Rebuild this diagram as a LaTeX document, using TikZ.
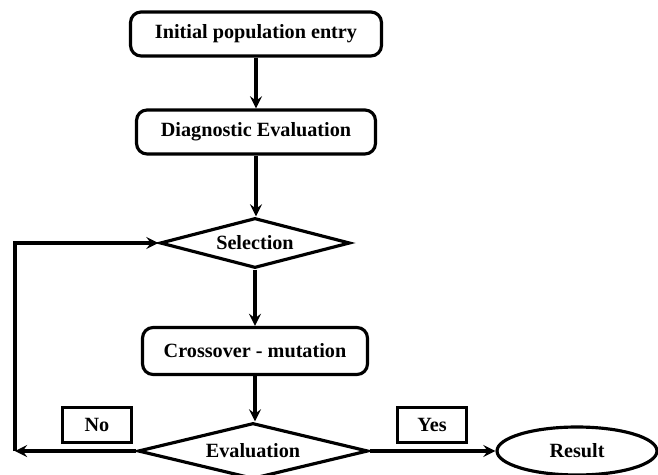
\documentclass[tikz,border=0pt]{standalone}
\usepackage{fontspec}
\setmainfont{Liberation Serif}
\usetikzlibrary{shapes.geometric, arrows, positioning}
\tikzstyle{arrow} = [line width=2pt,->,>=stealth]
\tikzstyle{process} = [rectangle, rounded corners=6pt, minimum width=4.8cm, minimum height=0.88cm, text centered, draw=black, line width=1.8pt, font=\bfseries\fontsize{11.5}{13}\selectfont]
\tikzstyle{decision} = [diamond, aspect=3.8, inner sep=0pt, minimum width=3.8cm, minimum height=1cm, text centered, draw=black, line width=1.8pt, font=\bfseries\fontsize{11.5}{13}\selectfont]
\tikzstyle{answer} = [rectangle, minimum width=1.38cm, minimum height=0.7cm, draw=black, line width=1.8pt, font=\bfseries\fontsize{11.5}{13}\selectfont]
\tikzstyle{terminal} = [ellipse, minimum width=3.2cm, minimum height=0.96cm, draw=black, line width=1.8pt, font=\bfseries\fontsize{11.5}{13}\selectfont]

\begin{document}
\begin{tikzpicture}[x=0.02cm, y=-0.02cm]
\useasboundingbox (0,0) rectangle (658,475);

% Main steps
\node (init) [process, minimum width=5.02cm] at (256,34) {Initial population entry};
\node (diag) [process, minimum width=4.78cm] at (256,132) {Diagnostic Evaluation};
\node (select) [decision] at (255,243) {Selection};
\node (cross) [process, minimum width=4.5cm, minimum height=0.94cm] at (255,351) {Crossover - mutation};
\node (eval) [decision, minimum width=4.6cm, minimum height=1.12cm, aspect=4.1] at (253,451) {Evaluation};
\node (result) [terminal] at (577,451) {Result};

% Branch labels
\node (no) [answer] at (97,425) {No};
\node (yes) [answer] at (432,425) {Yes};

% Loop corner
\coordinate (corner) at (15,451);

% Connections
\draw [arrow] (init) -- (diag);
\draw [arrow] (diag.south) -- (diag.south |- select.north);
\draw [arrow] (select) -- (cross);
\draw [arrow] (cross.south) -- (cross.south |- eval.north);
\draw [arrow] (eval) -- (result);
\draw [arrow] (eval) -- (corner);
\draw [arrow] (corner) |- (select);

\end{tikzpicture}
\end{document}
